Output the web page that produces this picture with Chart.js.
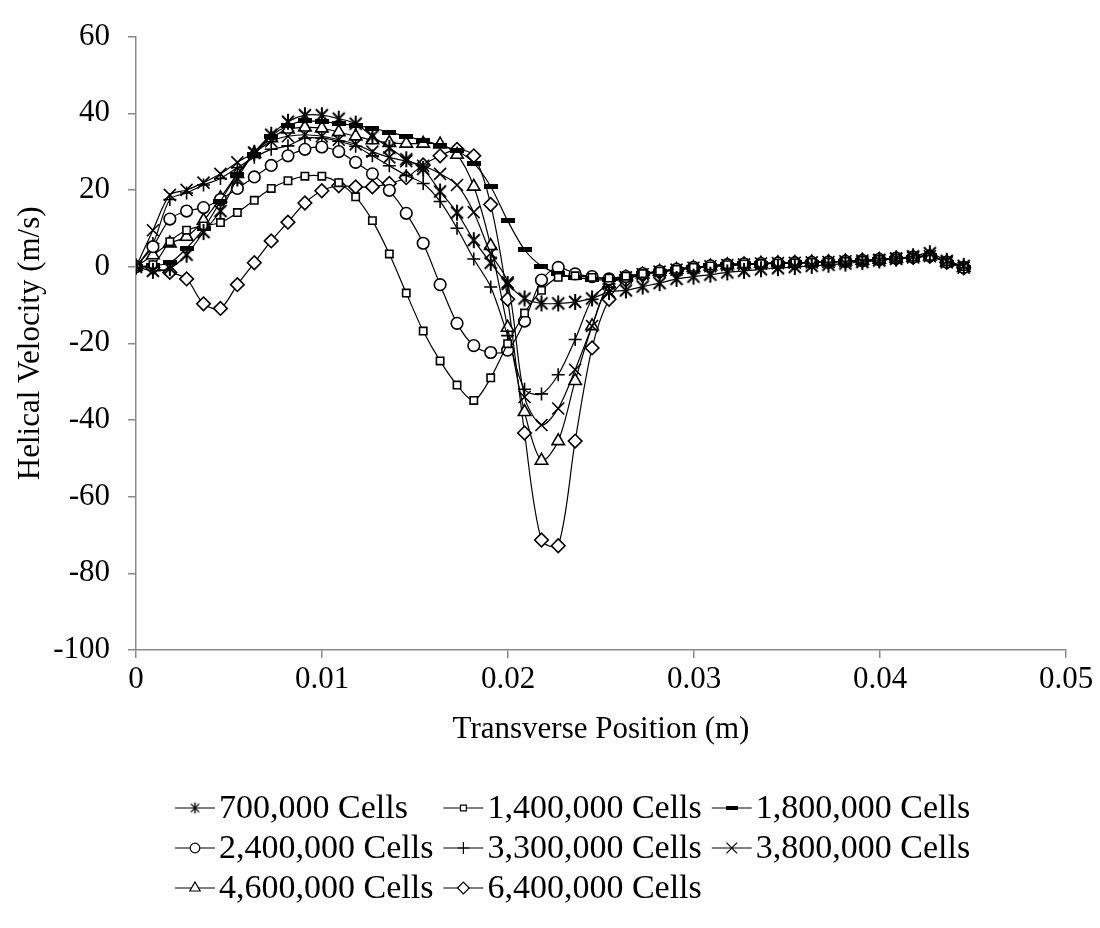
<!DOCTYPE html>
<html><head><meta charset="utf-8">
<script src="https://cdn.jsdelivr.net/npm/chart.js@4.4.1/dist/chart.umd.min.js"></script>
<style>html,body{margin:0;padding:0;background:#fff}#wrap{width:1100px;height:928px}</style>
</head><body><div id="wrap"><canvas id="c" width="1100" height="928"></canvas></div>
<script>
const xPositions = [0, 0.00091, 0.00182, 0.00272, 0.00363, 0.00454, 0.00545, 0.00636, 0.00727, 0.00817,
  0.00908, 0.00999, 0.0109, 0.01181, 0.01271, 0.01362, 0.01453, 0.01544, 0.01635, 0.01726,
  0.01816, 0.01907, 0.01998, 0.02089, 0.0218, 0.0227, 0.02361, 0.02452, 0.02543, 0.02634,
  0.02724, 0.02815, 0.02906, 0.02997, 0.03088, 0.03179, 0.03269, 0.0336, 0.03451, 0.03542,
  0.03633, 0.03723, 0.03814, 0.03905, 0.03996, 0.04087, 0.04178, 0.04268, 0.04359, 0.0445];

const cells700k = [0, -1.1, -0.4, 3.1, 9.0, 14.5, 23.0, 29.7, 34.4, 37.8,
  39.5, 39.5, 38.6, 37.3, 34.0, 31.0, 28.0, 25.5, 19.6, 14.1,
  6.9, 1.0, -4.5, -8.3, -9.6, -9.6, -9.2, -8.3, -6.6, -6.2,
  -5.2, -4.3, -3.2, -2.6, -2.1, -1.5, -1.1, -0.7, -0.4, -0.1,
  0.2, 0.5, 0.8, 1.2, 1.6, 2.1, 2.7, 3.5, 1.5, 0.2];
const cells1400k = [0, 0.5, 6.5, 9.5, 10.6, 11.5, 14.1, 17.3, 20.4, 22.4,
  23.6, 23.6, 21.9, 18.2, 12.0, 3.3, -6.9, -16.8, -24.6, -30.9,
  -34.9, -29.0, -20.1, -12.1, -6.2, -2.8, -2.4, -2.8, -3.0, -2.5,
  -1.8, -1.2, -0.7, -0.2, 0.2, 0.5, 0.7, 0.8, 0.9, 1.0,
  1.1, 1.2, 1.4, 1.6, 1.9, 2.2, 2.5, 2.7, 1.3, 0];
const cells1800k = [0, 0.3, 1.0, 4.8, 9.9, 17.0, 24.0, 29.3, 34.0, 36.8,
  38.0, 37.8, 37.3, 36.8, 36.1, 35.1, 34.0, 32.9, 31.7, 30.2,
  27.0, 20.9, 12.0, 4.4, 0.15, -1.8, -2.8, -3.3, -3.4, -2.6,
  -1.9, -1.2, -0.7, -0.2, 0.2, 0.5, 0.7, 0.8, 0.9, 1.0,
  1.1, 1.2, 1.4, 1.6, 1.9, 2.2, 2.5, 2.8, 1.2, -0.2];
const cells2400k = [0, 5.2, 12.4, 14.5, 15.4, 17.5, 20.4, 23.4, 26.4, 28.9,
  30.6, 31.2, 30.0, 27.2, 24.2, 19.9, 13.9, 6.1, -4.7, -14.8,
  -20.6, -22.4, -21.8, -14.2, -3.5, -0.2, -1.9, -2.6, -3.2, -2.6,
  -1.8, -1.2, -0.7, -0.2, 0.2, 0.5, 0.7, 0.8, 0.9, 1.0,
  1.1, 1.2, 1.4, 1.6, 1.9, 2.2, 2.5, 2.8, 1.2, -0.2];
const cells3300k = [0, 6.0, 17.5, 19.2, 21.3, 23.0, 25.8, 28.5, 30.6, 31.5,
  33.5, 33.5, 32.7, 31.4, 28.9, 26.3, 23.8, 21.7, 17.0, 10.0,
  2.0, -5.3, -18.0, -32.0, -33.2, -28.2, -19.0, -8.5, -4.5, -2.8,
  -2.0, -1.3, -0.8, -0.3, 0.1, 0.4, 0.6, 0.8, 0.9, 1.0,
  1.1, 1.2, 1.4, 1.6, 1.8, 2.1, 2.4, 2.7, 1.1, -0.3];
const cells3800k = [0, 9.5, 18.7, 20.0, 21.9, 24.2, 27.2, 29.7, 32.7, 34.0,
  34.4, 34.0, 33.1, 31.9, 30.0, 28.5, 27.5, 26.3, 24.2, 21.3,
  14.2, 3.5, -4.1, -34.0, -41.3, -37.0, -26.9, -15.5, -4.5, -2.8,
  -2.0, -1.3, -0.8, -0.3, 0.1, 0.4, 0.6, 0.8, 0.9, 1.0,
  1.1, 1.2, 1.4, 1.6, 1.8, 2.1, 2.4, 2.7, 1.1, -0.3];
const cells4600k = [0, 3.0, 6.1, 7.8, 12.0, 17.9, 24.2, 29.5, 33.5, 35.8,
  36.3, 36.1, 35.1, 34.0, 33.0, 32.3, 32.1, 32.1, 31.9, 29.2,
  20.9, 5.4, -15.9, -37.9, -50.6, -45.5, -29.8, -15.5, -4.5, -2.8,
  -2.0, -1.3, -0.8, -0.3, 0.1, 0.4, 0.6, 0.8, 0.9, 1.0,
  1.1, 1.2, 1.4, 1.6, 1.8, 2.1, 2.4, 2.7, 1.1, -0.3];
const cells6400k = [0, -0.3, -1.5, -3.2, -9.7, -10.9, -4.7, 1.0, 6.7, 11.6,
  16.6, 19.8, 21.1, 20.8, 20.8, 21.7, 23.2, 26.5, 28.9, 30.6,
  28.9, 16.2, -8.5, -43.4, -71.3, -72.8, -45.5, -21.2, -8.5, -3.5,
  -2.2, -1.4, -0.9, -0.4, 0.0, 0.4, 0.6, 0.8, 0.9, 1.0,
  1.1, 1.2, 1.4, 1.6, 1.8, 2.1, 2.4, 2.7, 1.1, -0.3];

const seriesNames = ['700,000 Cells', '1,400,000 Cells', '1,800,000 Cells', '2,400,000 Cells',
  '3,300,000 Cells', '3,800,000 Cells', '4,600,000 Cells', '6,400,000 Cells'];
const seriesValues = [cells700k, cells1400k, cells1800k, cells2400k, cells3300k, cells3800k, cells4600k, cells6400k];
const xTickValues = [0, 0.01, 0.02, 0.03, 0.04, 0.05];
const yTickValues = [-100, -80, -60, -40, -20, 0, 20, 40, 60];

const FONT = '"Liberation Serif", "Times New Roman", serif';
const AXIS_GREY = '#898989';

function asteriskImg(size, lw) {
  const c = document.createElement('canvas');
  c.width = size; c.height = size;
  const g = c.getContext('2d');
  g.strokeStyle = '#000'; g.lineWidth = lw;
  const m = size / 2, r = size / 2 - 1, d = r * 0.75;
  g.beginPath();
  g.moveTo(m, m - r); g.lineTo(m, m + r);
  g.moveTo(m - d, m - d); g.lineTo(m + d, m + d);
  g.moveTo(m + d, m - d); g.lineTo(m - d, m + d);
  g.stroke();
  return c;
}
function barImg(w, h) {
  const c = document.createElement('canvas');
  c.width = w; c.height = h;
  const g = c.getContext('2d');
  g.fillStyle = '#000'; g.fillRect(0, 0, w, h);
  return c;
}

const plotStyles = [asteriskImg(18, 2), 'rect', barImg(14, 5), 'circle', 'cross', 'crossRot', 'triangle', 'rectRot'];
const plotRadius = [6, 5.2, 6, 5.8, 6.5, 8.5, 7.2, 6.8];
const legendStyles = [asteriskImg(13, 1.4), 'rect', barImg(12, 4), 'circle', 'cross', 'crossRot', 'triangle', 'rectRot'];
const legendRadius = [5, 4.2, 5, 4.8, 6, 7.5, 6, 5.8];

const datasets = seriesValues.map((vals, i) => ({
  label: seriesNames[i],
  data: xPositions.map((x, j) => ({ x: x, y: vals[j] })),
  borderColor: '#000',
  borderWidth: 1.2,
  backgroundColor: '#fff',
  pointStyle: plotStyles[i],
  pointRadius: plotRadius[i],
  pointBorderWidth: 1.6,
  pointBackgroundColor: '#fff',
  pointBorderColor: '#000',
  tension: 0.3,
  fill: false
}));

const cellLegend = {
  id: 'cellLegend',
  afterDraw(chart) {
    const ctx = chart.ctx;
    ctx.save();
    ctx.font = '34px ' + FONT;
    const widths = chart.data.datasets.map(d => ctx.measureText(d.label).width);
    const maxW = Math.max.apply(null, widths);
    const lineLen = 40, gap = 4;
    const colW = lineLen + gap + maxW + 10;
    const startX = 175;
    const rowY = [808, 848, 888];
    chart.data.datasets.forEach((d, i) => {
      const col = i % 3, row = Math.floor(i / 3);
      const x = startX + col * colW, y = rowY[row];
      ctx.strokeStyle = '#000'; ctx.lineWidth = 1.2;
      ctx.beginPath(); ctx.moveTo(x, y); ctx.lineTo(x + lineLen, y); ctx.stroke();
      ctx.fillStyle = '#fff'; ctx.strokeStyle = '#000'; ctx.lineWidth = 1.2;
      Chart.helpers.drawPoint(ctx, { pointStyle: legendStyles[i], radius: legendRadius[i], borderWidth: 1.2, rotation: 0 }, x + lineLen / 2, y);
      ctx.fillStyle = '#000';
      ctx.textAlign = 'left'; ctx.textBaseline = 'middle';
      ctx.fillText(d.label, x + lineLen + gap, y + 1);
    });
    ctx.restore();
  }
};

new Chart(document.getElementById('c'), {
  type: 'line',
  data: { datasets: datasets },
  options: {
    responsive: false,
    animation: false,
    layout: { padding: { top: 19, right: 34, bottom: 178, left: 0 } },
    plugins: { legend: { display: false }, tooltip: { enabled: false } },
    scales: {
      x: {
        type: 'linear', min: 0, max: 0.05,
        afterBuildTicks: s => { s.ticks = xTickValues.map(v => ({ value: v })); },
        afterFit: s => { s.height = 100; },
        ticks: { color: '#000', font: { family: FONT, size: 31 }, padding: 3, maxRotation: 0, autoSkip: false,
          callback: v => String(Number(Number(v).toFixed(3))) },
        grid: { drawOnChartArea: false, drawTicks: true, tickLength: 8, color: AXIS_GREY, lineWidth: 1.5 },
        border: { color: AXIS_GREY, width: 1.5 },
        title: { display: true, text: 'Transverse Position (m)', color: '#000', font: { family: FONT, size: 31 }, padding: { top: 0, bottom: 2 } }
      },
      y: {
        type: 'linear', min: -100, max: 60,
        afterBuildTicks: s => { s.ticks = yTickValues.map(v => ({ value: v })); },
        afterFit: s => { s.width = 136; },
        ticks: { color: '#000', font: { family: FONT, size: 31 }, padding: 18, autoSkip: false,
          callback: v => String(v) },
        grid: { drawOnChartArea: false, drawTicks: true, tickLength: 8, color: AXIS_GREY, lineWidth: 1.5 },
        border: { color: AXIS_GREY, width: 1.5 },
        title: { display: true, text: 'Helical Velocity (m/s)', color: '#000', font: { family: FONT, size: 31 }, padding: { top: 12, bottom: 0 } }
      }
    }
  },
  plugins: [cellLegend]
});
</script></body></html>
